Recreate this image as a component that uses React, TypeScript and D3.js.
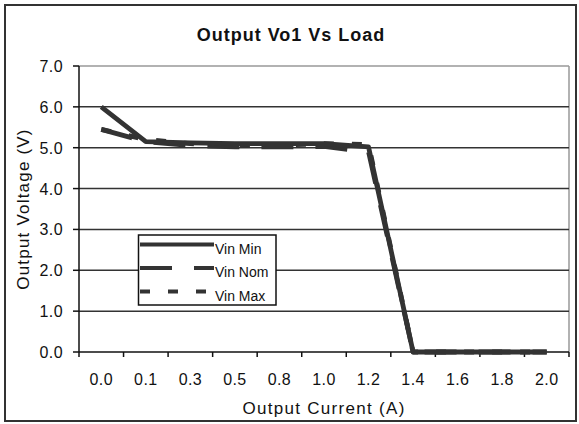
import React from "react";
import * as d3 from "d3";

const categories = ["0.0", "0.1", "0.3", "0.5", "0.8", "1.0", "1.2", "1.4", "1.6", "1.8", "2.0"];
const vinMin = [6.0, 5.15, 5.12, 5.1, 5.1, 5.1, 5.02, 0, 0, 0, 0];
const vinNom = [5.45, 5.15, 5.05, 5.02, 5.02, 5.03, 4.9, 0, 0, 0, 0];
const vinMax = [5.45, 5.2, 5.1, 5.06, 5.06, 5.1, 5.08, 0, 0, 0, 0];
const yTicks = [0, 1, 2, 3, 4, 5, 6, 7];
const seriesNames = ["Vin Min", "Vin Nom", "Vin Max"];

const W = 579;
const H = 424;
const left = 79;
const right = 569;
const top = 66;
const bottom = 352;

export default function App() {
  const x = d3.scaleBand<string>().domain(categories).range([left, right]).padding(0);
  const y = d3.scaleLinear().domain([0, 7]).range([bottom, top]);
  const cx = (i: number) => (x(categories[i]) as number) + x.bandwidth() / 2;
  const line = d3
    .line<number>()
    .x((_, i) => cx(i))
    .y((d) => y(d));

  const series = [
    { name: seriesNames[2], data: vinMax, dash: "10,18" },
    { name: seriesNames[1], data: vinNom, dash: "32,22" },
    { name: seriesNames[0], data: vinMin, dash: "none" },
  ];

  const legendItems = [
    { name: seriesNames[0], dash: "none" },
    { name: seriesNames[1], dash: "32,22" },
    { name: seriesNames[2], dash: "10,18" },
  ];

  const font = "'Liberation Sans', Arial, sans-serif";
  const edges = d3.range(categories.length + 1).map((i) => left + i * x.bandwidth());

  return (
    <svg
      width={W}
      height={H}
      style={{ position: "absolute", left: 0, top: 0, background: "#fff" }}
      fontFamily={font}
    >
      <rect x={0} y={0} width={W} height={H} fill="#fff" />
      <rect x={5} y={5} width={571} height={416} fill="#fff" stroke="#333" strokeWidth={2} />

      <text x={291} y={41} textAnchor="middle" fontSize={18} fontWeight="bold" letterSpacing={1} fill="#111">
        Output Vo1 Vs Load
      </text>

      {/* plot border (gray) */}
      <line x1={left} x2={right} y1={y(7)} y2={y(7)} stroke="#999" strokeWidth={1.5} />
      <line x1={right} x2={right} y1={top} y2={bottom} stroke="#999" strokeWidth={1.5} />

      {/* gridlines */}
      {yTicks
        .filter((t) => t > 0 && t < 7)
        .map((t) => (
          <line key={t} x1={left} x2={right} y1={y(t)} y2={y(t)} stroke="#333" strokeWidth={1.5} />
        ))}

      {/* y axis */}
      <line x1={left} x2={left} y1={top} y2={bottom} stroke="#111" strokeWidth={1.5} />
      {yTicks.map((t) => (
        <g key={t}>
          <line x1={left - 6} x2={left} y1={y(t)} y2={y(t)} stroke="#111" strokeWidth={1.5} />
          <text x={63} y={y(t) + 6} textAnchor="end" fontSize={16} letterSpacing={0.4} fill="#111">
            {t.toFixed(1)}
          </text>
        </g>
      ))}

      {/* x axis */}
      <line x1={left} x2={right} y1={bottom} y2={bottom} stroke="#111" strokeWidth={1.5} />
      {edges.map((e, i) => (
        <line key={i} x1={e} x2={e} y1={bottom} y2={bottom + 5} stroke="#111" strokeWidth={1.5} />
      ))}
      {categories.map((c, i) => (
        <text key={c} x={cx(i)} y={385} textAnchor="middle" fontSize={16} letterSpacing={0.4} fill="#111">
          {c}
        </text>
      ))}

      <text x={(left + right) / 2} y={414} textAnchor="middle" fontSize={17} letterSpacing={1.3} fill="#111">
        Output Current (A)
      </text>
      <text
        transform={`translate(29, ${(top + bottom) / 2}) rotate(-90)`}
        textAnchor="middle"
        fontSize={17}
        letterSpacing={1.2}
        fill="#111"
      >
        Output Voltage (V)
      </text>

      {/* series */}
      {series.map((s) => (
        <path
          key={s.name}
          d={line(s.data) || ""}
          fill="none"
          stroke="#333"
          strokeWidth={4.8}
          strokeDasharray={s.dash}
          strokeLinejoin="round"
        />
      ))}

      {/* legend */}
      <rect x={138.5} y={235} width={137.5} height={70} fill="#fff" stroke="#111" strokeWidth={1.5} />
      {legendItems.map((it, i) => {
        const ly = 244.5 + i * 23.5;
        return (
          <g key={it.name}>
            <line
              x1={140}
              x2={214}
              y1={ly}
              y2={ly}
              stroke="#333"
              strokeWidth={4}
              strokeDasharray={it.dash}
            />
            <text x={215} y={ly + 9} fontSize={14} fill="#111">
              {it.name}
            </text>
          </g>
        );
      })}
    </svg>
  );
}
